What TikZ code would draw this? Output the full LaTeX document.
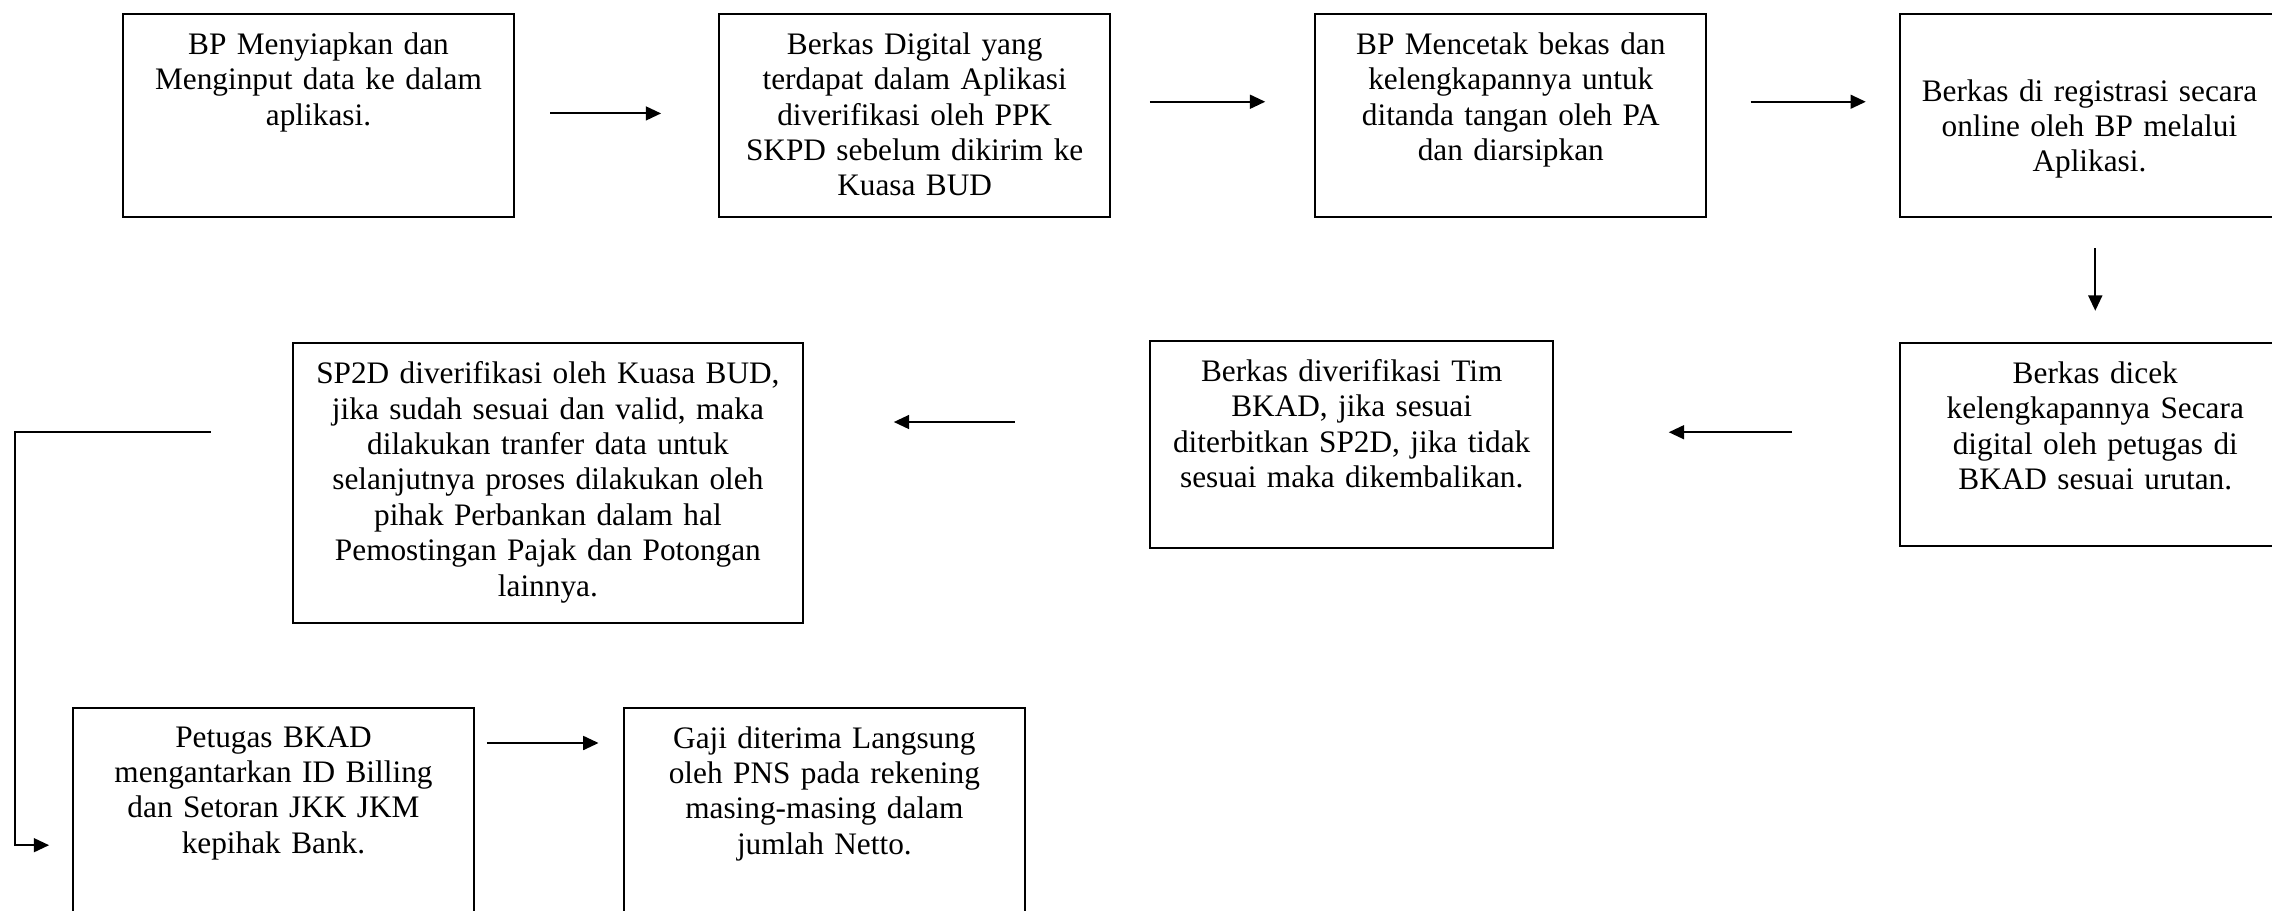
\documentclass[tikz,border=0pt]{standalone}
\usepackage{fontspec}
\setmainfont{Liberation Serif}
\usetikzlibrary{positioning, arrows.meta}
\tikzset{
    step_box/.style={rectangle, minimum width=5.36cm, minimum height=2.78cm, inner sep=0pt, draw=black, line width=0.8pt},
    wide_box/.style={step_box, minimum width=5.52cm, minimum height=2.84cm},
    tall_box/.style={step_box, minimum width=6.99cm, minimum height=3.84cm},
    low_box/.style={step_box, minimum width=5.5cm, minimum height=2.9cm},
    box_text/.style={text width=5cm, align=center, inner sep=0pt, font=\fontsize{12.2}{13.8}\selectfont},
    arrow/.style={line width=0.8pt, -{Triangle[length=2.1mm, width=1.9mm]}},
}

\begin{document}
\begin{tikzpicture}[node distance=2.8cm]
      \useasboundingbox (0,0) rectangle (31.13,-12.47);
      \fill [white] (0,0) rectangle (31.13,-12.47);

      % first row
      \node (b1) [step_box, anchor=north west] at (1.67,-0.18) {};
      \node (b2) [step_box, right = 2.78cm of b1] {};
      \node (b3) [step_box, right = 2.78cm of b2] {};
      \node (b4) [step_box, right = 2.62cm of b3] {};

      % second row
      \node (b5) [step_box, below = 1.70cm of b4] {};
      \node (b6) [wide_box, left = 4.72cm of b5] {};
      \node (b7) [tall_box, left = 4.73cm of b6, yshift=-0.53cm] {};

      % third row
      \node (b8) [low_box, below = 1.13cm of b7, xshift=-3.76cm] {};
      \node (b9) [low_box, right = 2.02cm of b8] {};

      % texts
      \node (t1) [box_text, below = 0.26cm of b1.north]{BP Menyiapkan dan\\ Menginput data ke dalam\\ aplikasi.};
      \node (t2) [box_text, below = 0.26cm of b2.north]{Berkas Digital yang\\ terdapat dalam Aplikasi\\ diverifikasi oleh PPK\\ SKPD sebelum dikirim ke\\ Kuasa BUD};
      \node (t3) [box_text, below = 0.26cm of b3.north]{BP Mencetak bekas dan\\ kelengkapannya untuk\\ ditanda tangan oleh PA\\ dan diarsipkan};
      \node (t4) [box_text, below = 0.9cm of b4.north, xshift=-0.08cm]{Berkas di registrasi secara\\ online oleh BP melalui\\ Aplikasi.};
      \node (t5) [box_text, below = 0.26cm of b5.north]{Berkas dicek\\ kelengkapannya Secara\\ digital oleh petugas di\\ BKAD sesuai urutan.};
      \node (t6) [box_text, below = 0.26cm of b6.north]{Berkas diverifikasi Tim\\ BKAD, jika sesuai\\ diterbitkan SP2D, jika tidak\\ sesuai maka dikembalikan.};
      \node (t7) [box_text, text width=6.6cm, below = 0.26cm of b7.north]{SP2D diverifikasi oleh Kuasa BUD,\\ jika sudah sesuai dan valid, maka\\ dilakukan tranfer data untuk\\ selanjutnya proses dilakukan oleh\\ pihak Perbankan dalam hal\\ Pemostingan Pajak dan Potongan\\ lainnya.};
      \node (t8) [box_text, below = 0.26cm of b8.north]{Petugas BKAD\\ mengantarkan ID Billing\\ dan Setoran JKK JKM\\ kepihak Bank.};
      \node (t9) [box_text, below = 0.26cm of b9.north]{Gaji diterima Langsung\\ oleh PNS pada rekening\\ masing-masing dalam\\ jumlah Netto.};

      % arrows
      \draw [arrow] ([xshift=0.48cm, yshift=0.03cm]b1.east) -- ([xshift=-0.78cm, yshift=0.03cm]b2.west);
      \draw [arrow] ([xshift=0.53cm, yshift=0.19cm]b2.east) -- ([xshift=-0.67cm, yshift=0.19cm]b3.west);
      \draw [arrow] ([xshift=0.59cm, yshift=0.19cm]b3.east) -- ([xshift=-0.45cm, yshift=0.19cm]b4.west);
      \draw [arrow] ([yshift=-0.41cm]b4.south) -- ([yshift=0.43cm]b5.north);
      \draw [arrow] ([xshift=-1.46cm, yshift=0.17cm]b5.west) -- ([xshift=1.57cm, yshift=0.17cm]b6.east);
      \draw [arrow] ([xshift=-1.84cm, yshift=0.31cm]b6.west) -- ([xshift=1.23cm, yshift=0.84cm]b7.east);

      \coordinate (elbow_start) at ([xshift=-1.11cm, yshift=0.7cm]b7.west);
      \coordinate (elbow_end) at ([xshift=-0.31cm, yshift=-0.43cm]b8.west);
      \draw [arrow] (elbow_start) -- ++(-2.68,0) |- (elbow_end);

      \draw [arrow] ([xshift=0.16cm, yshift=0.97cm]b8.east) -- ([xshift=-0.33cm, yshift=0.97cm]b9.west);
\end{tikzpicture}
\end{document}
